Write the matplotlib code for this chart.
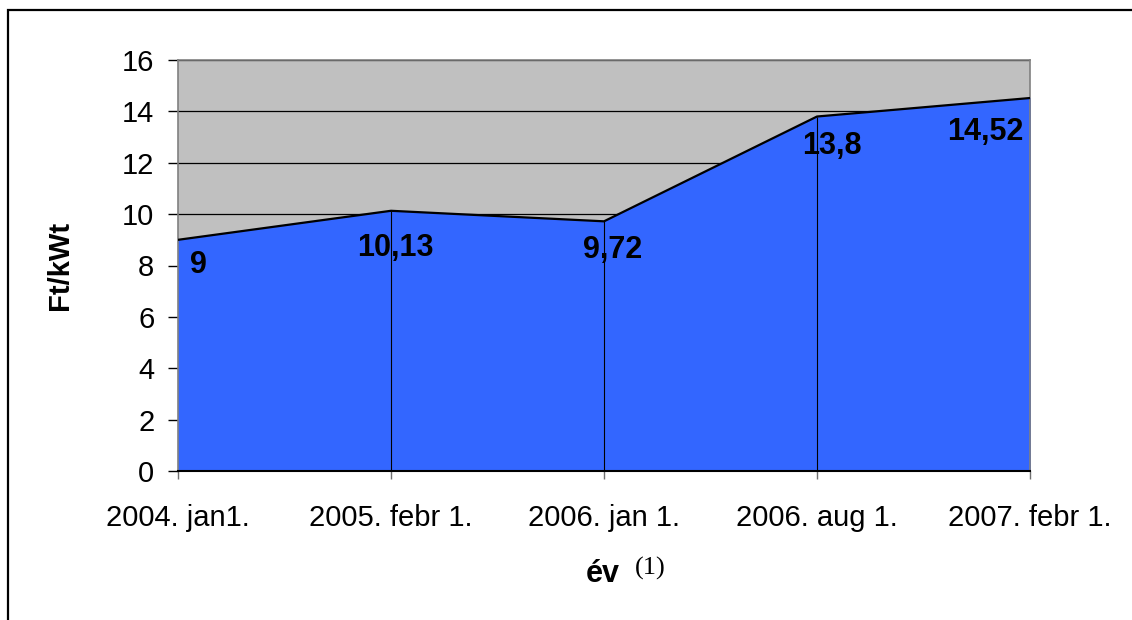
import matplotlib.pyplot as plt
from matplotlib.patches import Rectangle

# adatok
datumok = ["2004. jan1.", "2005. febr 1.", "2006. jan 1.", "2006. aug 1.", "2007. febr 1."]
arak = [9, 10.13, 9.72, 13.8, 14.52]
cimkek = ["9", "10,13", "9,72", "13,8", "14,52"]

# cimkek eltolasa pixelben (dx, dy)
eltolas = [(20, -25), (4, -37), (9, -29), (15, -29), (-45, -34)]

plt.rcParams['font.family'] = ['Liberation Sans', 'DejaVu Sans']

fig = plt.figure(figsize=(11.32, 6.2), dpi=100)
ax = fig.add_axes([178 / 1132, 149 / 620, 852 / 1132, 411 / 620])

x = list(range(len(arak)))
ax.set_facecolor('#C0C0C0')
ax.fill_between(x, 0, arak, color='#3366FF', zorder=2)
ax.plot(x, arak, color='black', lw=1.6, zorder=3)
ax.vlines(x[1:-1], 0, arak[1:-1], color='black', lw=0.8, zorder=3)

ax.set_xlim(0, len(arak) - 1)
ax.set_ylim(0, 16)
ax.set_yticks(range(0, 17, 2))
ax.set_xticks(x)
ax.set_xticklabels(datumok)
ax.yaxis.grid(True, color='black', lw=0.9)
ax.set_axisbelow(True)

ax.tick_params(axis='y', labelsize=21, length=7, width=1, pad=10)
ax.tick_params(axis='x', labelsize=21, length=6, width=1, pad=18, color='#707070')
for s in ['top', 'right', 'left']:
    ax.spines[s].set_color('#808080')
    ax.spines[s].set_linewidth(1.2)
ax.spines['bottom'].set_color('black')
ax.spines['bottom'].set_linewidth(1.5)

# adatcimkek
for i, (v, c) in enumerate(zip(arak, cimkek)):
    dx, dy = eltolas[i]
    ax.annotate(c, (i, v), xytext=(dx, dy), textcoords='offset pixels',
                ha='center', va='center', fontsize=22, fontweight='bold', zorder=4)

ax.set_ylabel("Ft/kWt", fontsize=21, fontweight='bold', va='center')
ax.yaxis.set_label_coords(-118 / 852, 0.5)

fig.text(603 / 1132, 1 - 574 / 620, "év", fontsize=22, fontweight='bold',
         ha='center', va='center')
fig.text(635 / 1132, 1 - 568 / 620, "(1)", fontsize=19, family='Liberation Serif',
         ha='left', va='center')

fig.patches.append(Rectangle((8 / 1132, -0.02), 1.1, 1 - 10 / 620 + 0.02,
                             transform=fig.transFigure, fill=False,
                             edgecolor='black', lw=1.6))

fig.savefig('out.png', dpi=100)
